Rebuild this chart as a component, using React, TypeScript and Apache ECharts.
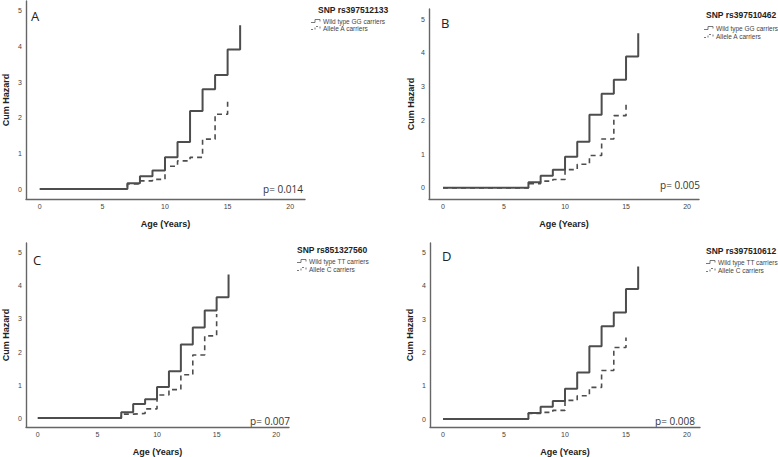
import React, { useEffect, useRef } from "react";
import * as echarts from "echarts";

// ---- data ----
const wildAges = [0, 7, 8, 9, 10, 11, 12, 13, 14, 15, 16];
const alleleAges = [0, 7, 8, 9, 10, 11, 12, 13, 14, 15];

const aWild = [0, 0.16, 0.36, 0.52, 0.89, 1.32, 2.19, 2.8, 3.2, 3.92, 4.6];
const aAllele = [0, 0.14, 0.23, 0.27, 0.64, 0.79, 0.89, 1.4, 2.1, 2.47];
const bWild = [0, 0.17, 0.36, 0.54, 0.92, 1.37, 2.17, 2.79, 3.2, 3.89, 4.58];
const bAllele = [0, 0.12, 0.2, 0.25, 0.54, 0.7, 0.96, 1.45, 2.14, 2.48];
const cWild = [0, 0.18, 0.43, 0.57, 0.94, 1.42, 2.23, 2.74, 3.26, 3.66, 4.35];
const cAllele = [0, 0.12, 0.14, 0.28, 0.7, 0.86, 1.31, 1.91, 2.49, 3.15];
const dWild = [0, 0.18, 0.37, 0.54, 0.91, 1.4, 2.19, 2.79, 3.2, 3.91, 4.58];
const dAllele = [0, 0.17, 0.2, 0.26, 0.56, 0.7, 0.95, 1.46, 2.15, 2.45];

const xTicks = [0, 5, 10, 15, 20];
const yTicks = [0, 1, 2, 3, 4, 5];

const panelLetters = ["A", "B", "C", "D"];
const snpTitles = ["SNP rs397512133", "SNP rs397510462", "SNP rs851327560", "SNP rs397510612"];
const wildLabels = ["Wild type GG carriers", "Wild type GG carriers", "Wild type TT carriers", "Wild type TT carriers"];
const alleleLabels = ["Allele A carriers", "Allele A carriers", "Allele C carriers", "Allele C carriers"];
const pValues = ["p= 0.014", "p= 0.005", "p= 0.007", "p= 0.008"];
const wildSets = [aWild, bWild, cWild, dWild];
const alleleSets = [aAllele, bAllele, cAllele, dAllele];

// ---- layout (pixels) ----
const grids = [
  { left: 21, top: 1, width: 284, height: 198, xMin: -1.1, xMax: 21.18, yMin: -0.28, yMax: 5.28, yGap: 16 },
  { left: 429, top: 9, width: 270, height: 190, xMin: -1.15, xMax: 20.98, yMin: -0.33, yMax: 5.3, yGap: 14 },
  { left: 21, top: 243, width: 268, height: 187, xMin: -0.99, xMax: 21.07, yMin: -0.27, yMax: 5.3, yGap: 16 },
  { left: 430, top: 243, width: 270, height: 188, xMin: -1.07, xMax: 21.07, yMin: -0.24, yMax: 5.29, yGap: 16 },
];
const letterPos = [
  [31, 9],
  [441, 16],
  [33, 253],
  [442, 249],
];
const pPos = [
  [303, 189],
  [700, 185],
  [290, 421],
  [695, 421],
];
const legendPos = [
  { tx: 318, ty: 10, ix: 311, i1: 21, i2: 28 },
  { tx: 706, ty: 15, ix: 704, i1: 28, i2: 36 },
  { tx: 297, ty: 250, ix: 297, i1: 261, i2: 269 },
  { tx: 706, ty: 251, ix: 706, i1: 262, i2: 270 },
];

const CURVE = "#4d4d4d";
const AXIS = "#666666";
const SANS = "Liberation Sans, Arial, sans-serif";
const CAL = "Open Sans, Noto Sans, sans-serif";

export default function App() {
  const ref = useRef<HTMLDivElement>(null);
  useEffect(() => {
    if (!ref.current) return;
    const chart = echarts.init(ref.current, undefined, { renderer: "svg" });

    const grid = grids.map((g) => ({ left: g.left, top: g.top, width: g.width, height: g.height }));
    const xAxis = grids.map((g, i) => ({
      type: "value",
      gridIndex: i,
      min: g.xMin,
      max: g.xMax,
      axisLine: { show: true, onZero: false, lineStyle: { color: AXIS, width: 1.4 } },
      axisTick: { show: false },
      splitLine: { show: false },
      axisLabel: {
        customValues: xTicks,
        formatter: (v: number) => (xTicks.includes(v) ? String(v) : ""),
        fontSize: 7,
        color: "#444",
        margin: 4,
        fontFamily: SANS,
      },
      name: "Age (Years)",
      nameLocation: "middle",
      nameGap: 20,
      nameTextStyle: { fontSize: 9, fontWeight: "bold", color: "#222", fontFamily: SANS },
    }));
    const yAxis = grids.map((g, i) => ({
      type: "value",
      gridIndex: i,
      min: g.yMin,
      max: g.yMax,
      axisLine: { show: true, onZero: false, lineStyle: { color: AXIS, width: 1.4 } },
      axisTick: { show: false },
      splitLine: { show: false },
      axisLabel: {
        customValues: yTicks,
        formatter: (v: number) => (yTicks.includes(v) ? String(v) : ""),
        fontSize: 7,
        color: "#444",
        margin: 4,
        fontFamily: SANS,
      },
      name: "Cum Hazard",
      nameLocation: "middle",
      nameGap: g.yGap,
      nameTextStyle: { fontSize: 9, fontWeight: "bold", color: "#222", fontFamily: SANS },
    }));

    const series: any[] = [];
    for (let i = 0; i < 4; i++) {
      series.push({
        type: "line",
        name: wildLabels[i],
        xAxisIndex: i,
        yAxisIndex: i,
        step: "end",
        symbol: "none",
        lineStyle: { color: CURVE, width: 2 },
        data: wildAges.map((a, k) => [a, wildSets[i][k]]),
      });
      series.push({
        type: "line",
        name: alleleLabels[i],
        xAxisIndex: i,
        yAxisIndex: i,
        step: "end",
        symbol: "none",
        lineStyle: { color: CURVE, width: 1.6, type: [5, 4] },
        data: alleleAges.map((a, k) => [a, alleleSets[i][k]]),
      });
    }

    const graphic: any[] = [];
    for (let i = 0; i < 4; i++) {
      graphic.push({
        type: "text",
        left: letterPos[i][0],
        top: letterPos[i][1],
        style: { text: panelLetters[i], fontSize: 13, fill: "#222", fontFamily: CAL },
      });
      graphic.push({
        type: "text",
        x: pPos[i][0],
        y: pPos[i][1],
        style: {
          text: pValues[i],
          fontSize: 10,
          fill: "#333",
          fontFamily: CAL,
          align: "right",
          verticalAlign: "middle",
        },
      });
      const L = legendPos[i];
      graphic.push({
        type: "text",
        x: L.tx,
        y: L.ty,
        style: {
          text: snpTitles[i],
          fontSize: 8.5,
          fontWeight: "bold",
          fill: "#222",
          fontFamily: SANS,
          verticalAlign: "middle",
        },
      });
      graphic.push({
        type: "polyline",
        shape: {
          points: [
            [L.ix, L.i1 + 1.5],
            [L.ix + 4, L.i1 + 1.5],
            [L.ix + 4, L.i1 - 1.5],
            [L.ix + 9, L.i1 - 1.5],
            [L.ix + 9, L.i1 + 0.5],
          ],
        },
        style: { stroke: "#555", lineWidth: 0.8, fill: "none" },
      });
      graphic.push({
        type: "polyline",
        shape: {
          points: [
            [L.ix, L.i2 + 1.5],
            [L.ix + 4, L.i2 + 1.5],
            [L.ix + 4, L.i2 - 1.5],
            [L.ix + 9, L.i2 - 1.5],
            [L.ix + 9, L.i2 + 0.5],
          ],
        },
        style: { stroke: "#555", lineWidth: 0.8, fill: "none", lineDash: [2, 2] },
      });
      graphic.push({
        type: "text",
        x: L.ix + 12,
        y: L.i1,
        style: { text: wildLabels[i], fontSize: 6.5, fill: "#444", fontFamily: SANS, verticalAlign: "middle" },
      });
      graphic.push({
        type: "text",
        x: L.ix + 12,
        y: L.i2,
        style: { text: alleleLabels[i], fontSize: 6.5, fill: "#444", fontFamily: SANS, verticalAlign: "middle" },
      });
    }

    chart.setOption({
      animation: false,
      backgroundColor: "#ffffff",
      grid,
      xAxis,
      yAxis,
      series,
      graphic,
    } as any);
    return () => chart.dispose();
  }, []);

  return (
    <div
      ref={ref}
      style={{ position: "fixed", left: 0, top: 0, width: 778, height: 457, background: "#fff" }}
    />
  );
}
